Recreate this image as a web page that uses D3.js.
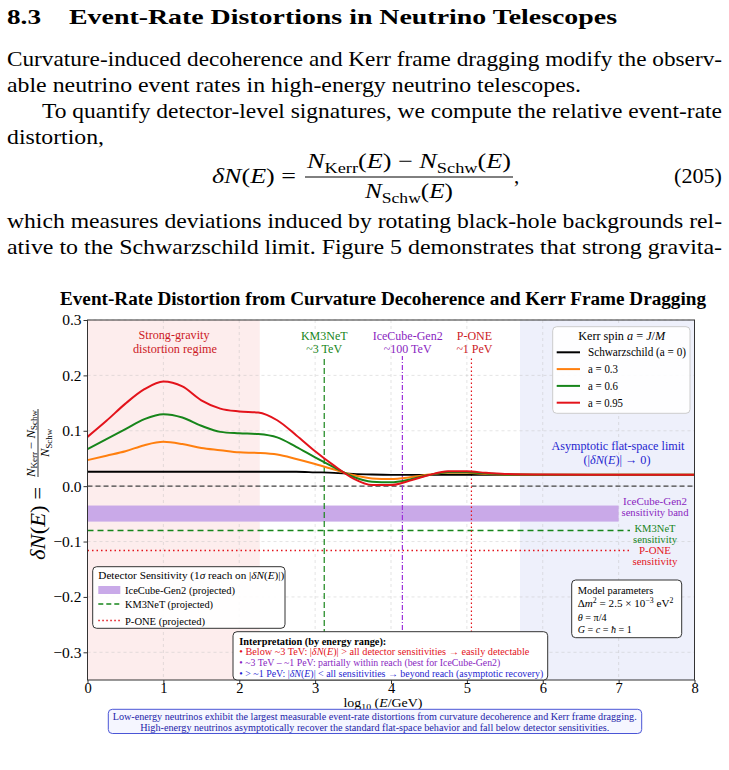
<!DOCTYPE html>
<html>
<head>
<meta charset="utf-8">
<script src="https://cdn.jsdelivr.net/npm/d3@7"></script>
<style>
  html, body { margin: 0; padding: 0; background: #fff; }
  svg { display: block; }
  text { font-family: "Liberation Serif", "DejaVu Serif", serif; }
</style>
</head>
<body>
<div id="page"></div>
<script>
// ---- values ----
var logE = [0, 0.25, 0.5, 0.75, 1, 1.25, 1.5, 1.75, 2, 2.25, 2.5, 2.75, 3, 3.25,
            3.5, 3.75, 4, 4.25, 4.5, 4.75, 5, 5.25, 5.5, 6, 7, 8];

var schwarzschild = [0.026, 0.026, 0.026, 0.026, 0.026, 0.026, 0.026, 0.026, 0.026, 0.026, 0.026, 0.026, 0.025, 0.024,
                     0.022, 0.021, 0.0205, 0.0205, 0.0205, 0.0205, 0.0205, 0.0205, 0.0205, 0.0205, 0.0205, 0.0205];
var spin03 = [0.047, 0.055, 0.063, 0.074, 0.080, 0.076, 0.069, 0.065, 0.061, 0.060, 0.057, 0.049, 0.040, 0.030,
              0.020, 0.014, 0.013, 0.016, 0.021, 0.024, 0.024, 0.022, 0.021, 0.0205, 0.0205, 0.0205];
var spin06 = [0.067, 0.085, 0.103, 0.121, 0.130, 0.124, 0.109, 0.098, 0.0955, 0.094, 0.088, 0.071, 0.052, 0.034,
              0.017, 0.008, 0.007, 0.012, 0.020, 0.025, 0.025, 0.023, 0.021, 0.0205, 0.0205, 0.0205];
var spin095 = [0.089, 0.118, 0.149, 0.175, 0.189, 0.180, 0.155, 0.140, 0.135, 0.133, 0.119, 0.092, 0.063, 0.037,
               0.014, 0.002, 0.002, 0.010, 0.020, 0.027, 0.027, 0.024, 0.022, 0.021, 0.0205, 0.0205];

var seriesNames = ["Schwarzschild (a = 0)", "a = 0.3", "a = 0.6", "a = 0.95"];
var seriesColors = ["#000000", "#ff7f0e", "#17851a", "#e3131b"];

var detectorNames = ["KM3NeT", "IceCube-Gen2", "P-ONE"];
var detectorEnergies = ["~3 TeV", "~100 TeV", "~1 PeV"];
var detectorLogE = [3.12, 4.15, 5.06];
var km3netSensitivity = -0.08;
var poneSensitivity = -0.116;
var icecubeBand = [-0.064, -0.035];
var icecubeBandEnd = 7;
var sensLineEnd = 7.15;

var strongRegime = [0, 2.27];
var flatRegime = [5.7, 8];

var xTicks = [0, 1, 2, 3, 4, 5, 6, 7, 8];
var yTicks = [-0.3, -0.2, -0.1, 0, 0.1, 0.2, 0.3];

// ---- page ----
var width = 729, height = 770;
var svg = d3.select("#page").append("svg")
    .attr("width", width)
    .attr("height", height);

svg.append("rect").attr("width", width).attr("height", height).attr("fill", "#fff");

function fit(sel, w) {
    return sel.attr("textLength", w).attr("lengthAdjust", "spacingAndGlyphs");
}

// text with italic / sub / sup pieces
function rich(parent, x, y, parts, size, anchor) {
    var t = parent.append("text")
        .attr("x", x).attr("y", y)
        .attr("font-size", size)
        .attr("text-anchor", anchor || "start");
    var shift = 0;
    parts.forEach(function(p) {
        var s = typeof p === "string" ? {t: p} : p;
        var target = s.sub ? 0.22 * size : (s.sup ? -0.33 * size : 0);
        var ts = t.append("tspan").text(s.t).attr("dy", target - shift);
        shift = target;
        if (s.sub || s.sup) ts.attr("font-size", size * 0.7);
        if (s.i) ts.attr("font-style", "italic");
        if (s.b) ts.attr("font-weight", "bold");
    });
    return t;
}

// section heading + paragraph
fit(svg.append("text").attr("x", 7).attr("y", 24).attr("font-size", 22)
    .attr("font-weight", "bold").text("8.3"), 34);
fit(svg.append("text").attr("x", 69).attr("y", 24).attr("font-size", 22)
    .attr("font-weight", "bold").text("Event-Rate Distortions in Neutrino Telescopes"), 548);

var bodyLines = [
    ["Curvature-induced decoherence and Kerr frame dragging modify the observ-", 7, 66, 715],
    ["able neutrino event rates in high-energy neutrino telescopes.", 7, 92, 574],
    ["To quantify detector-level signatures, we compute the relative event-rate", 42, 118, 680],
    ["distortion,", 7, 144, 97],
    ["which measures deviations induced by rotating black-hole backgrounds rel-", 7, 228, 715],
    ["ative to the Schwarzschild limit.  Figure 5 demonstrates that strong gravita-", 7, 254, 715]
];
bodyLines.forEach(function(l) {
    fit(svg.append("text").attr("x", l[1]).attr("y", l[2]).attr("font-size", 21).text(l[0]), l[3]);
});

// equation (205)
fit(rich(svg, 212, 183, [{t: "δN", i: true}, "(", {t: "E", i: true}, ") ="], 21), 84);
fit(rich(svg, 307, 168, [{t: "N", i: true}, {t: "Kerr", sub: true}, "(", {t: "E", i: true}, ") − ",
    {t: "N", i: true}, {t: "Schw", sub: true}, "(", {t: "E", i: true}, ")"], 21), 204);
svg.append("line").attr("x1", 305).attr("x2", 513).attr("y1", 177).attr("y2", 177)
    .attr("stroke", "#000").attr("stroke-width", 1);
fit(rich(svg, 365, 198, [{t: "N", i: true}, {t: "Schw", sub: true}, "(", {t: "E", i: true}, ")"], 21), 88);
svg.append("text").attr("x", 514).attr("y", 183).attr("font-size", 21).text(",");
fit(svg.append("text").attr("x", 674).attr("y", 183).attr("font-size", 21).text("(205)"), 48);

// ---- chart ----
var plot = {left: 87.5, right: 694.5, top: 320, bottom: 680};

var x = d3.scaleLinear().domain([0, 8]).range([plot.left, plot.right]);
var y = d3.scaleLinear().domain([-0.35, 0.3]).range([plot.bottom, plot.top]);

fit(svg.append("text").attr("x", 383).attr("y", 305).attr("text-anchor", "middle")
    .attr("font-size", 18).attr("font-weight", "bold")
    .text("Event-Rate Distortion from Curvature Decoherence and Kerr Frame Dragging"), 646);

var chart = svg.append("g");

// shaded regimes
chart.append("rect")
    .attr("x", x(strongRegime[0])).attr("width", x(strongRegime[1]) - x(strongRegime[0]))
    .attr("y", plot.top).attr("height", plot.bottom - plot.top)
    .attr("fill", "#fdeded");
chart.append("rect")
    .attr("x", x(flatRegime[0])).attr("width", x(flatRegime[1]) - x(flatRegime[0]))
    .attr("y", plot.top).attr("height", plot.bottom - plot.top)
    .attr("fill", "#eef0fb");

// grid
chart.selectAll("line.gx").data(xTicks.slice(1, -1)).enter().append("line")
    .attr("x1", d => x(d)).attr("x2", d => x(d))
    .attr("y1", plot.top).attr("y2", plot.bottom)
    .attr("stroke", "#bbb").attr("stroke-opacity", 0.5).attr("stroke-dasharray", "3,3").attr("stroke-width", 0.8);
chart.selectAll("line.gy").data(yTicks).enter().append("line")
    .attr("x1", plot.left).attr("x2", plot.right)
    .attr("y1", d => y(d)).attr("y2", d => y(d))
    .attr("stroke", "#bbb").attr("stroke-opacity", 0.5).attr("stroke-dasharray", "3,3").attr("stroke-width", 0.8);

// detector sensitivities
chart.append("rect")
    .attr("x", x(0)).attr("width", x(icecubeBandEnd) - x(0))
    .attr("y", y(icecubeBand[1])).attr("height", y(icecubeBand[0]) - y(icecubeBand[1]))
    .attr("fill", "#c9a9e8");
chart.append("line")
    .attr("x1", x(0)).attr("x2", x(sensLineEnd))
    .attr("y1", y(km3netSensitivity)).attr("y2", y(km3netSensitivity))
    .attr("stroke", "#17851a").attr("stroke-width", 1.5).attr("stroke-dasharray", "6,4");
chart.append("line")
    .attr("x1", x(0)).attr("x2", x(sensLineEnd))
    .attr("y1", y(poneSensitivity)).attr("y2", y(poneSensitivity))
    .attr("stroke", "#e3131b").attr("stroke-width", 1.5).attr("stroke-dasharray", "1.5,3");

// zero line
chart.append("line")
    .attr("x1", x(0)).attr("x2", x(8)).attr("y1", y(0)).attr("y2", y(0))
    .attr("stroke", "#444").attr("stroke-width", 1.2).attr("stroke-dasharray", "5,3");

// detector threshold lines
var vStyles = [
    {color: "#17851a", dash: "6,3", text: "#17851a"},
    {color: "#9b30d9", dash: "5,2,1,2", text: "#8a1fbf"},
    {color: "#e3131b", dash: "1.5,2.5", text: "#cc1a1f"}
];
var labelLogE = [3.12, 4.22, 5.1];
detectorLogE.forEach(function(e, i) {
    chart.append("line")
        .attr("x1", x(e)).attr("x2", x(e))
        .attr("y1", plot.bottom).attr("y2", plot.bottom - 0.9 * (plot.bottom - plot.top))
        .attr("stroke", vStyles[i].color).attr("stroke-width", 1.2)
        .attr("stroke-dasharray", vStyles[i].dash);
    chart.append("text").attr("x", x(labelLogE[i])).attr("y", 340)
        .attr("text-anchor", "middle").attr("font-size", 12).attr("fill", vStyles[i].text)
        .text(detectorNames[i]);
    chart.append("text").attr("x", x(labelLogE[i])).attr("y", 352.5)
        .attr("text-anchor", "middle").attr("font-size", 12).attr("fill", vStyles[i].text)
        .text(detectorEnergies[i]);
});

// curves
var allSeries = [schwarzschild, spin03, spin06, spin095];
var line = d3.line()
    .x((d, i) => x(logE[i]))
    .y(d => y(d))
    .curve(d3.curveMonotoneX);
allSeries.forEach(function(s, i) {
    chart.append("path")
        .attr("d", line(s))
        .attr("fill", "none")
        .attr("stroke", seriesColors[i])
        .attr("stroke-width", i === 0 ? 1.8 : 2);
});

// regime annotations
fit(chart.append("text").attr("x", 174).attr("y", 339).attr("text-anchor", "middle")
    .attr("font-size", 12.5).attr("fill", "#cc1a1f").text("Strong-gravity"), 71);
fit(chart.append("text").attr("x", 175).attr("y", 352.5).attr("text-anchor", "middle")
    .attr("font-size", 12.5).attr("fill", "#cc1a1f").text("distortion regime"), 84);
fit(chart.append("text").attr("x", 618).attr("y", 450).attr("text-anchor", "middle")
    .attr("font-size", 12.5).attr("fill", "#1f1fd0").text("Asymptotic flat-space limit"), 133);
fit(rich(chart, 617, 463.5, ["(|", {t: "δN", i: true}, "(", {t: "E", i: true}, ")| → 0)"], 12.5, "middle")
    .attr("fill", "#1f1fd0"), 67);

// right-hand sensitivity labels
var sideLabels = [
    ["IceCube-Gen2", 505, "#8a1fbf", 64],
    ["sensitivity band", 516, "#8a1fbf", 67],
    ["KM3NeT", 531.5, "#17851a", 41],
    ["sensitivity", 542.5, "#17851a", 44],
    ["P-ONE", 553.5, "#e3131b", 32],
    ["sensitivity", 564.5, "#e3131b", 45]
];
sideLabels.forEach(function(l) {
    fit(chart.append("text").attr("x", 655).attr("y", l[1]).attr("text-anchor", "middle")
        .attr("font-size", 10.5).attr("fill", l[2]).text(l[0]), l[3]);
});

// axes
var xAxis = d3.axisBottom(x).tickValues(xTicks).tickSize(4).tickPadding(-1).tickFormat(d3.format("d"));
var yAxis = d3.axisLeft(y).tickValues(yTicks).tickSize(4).tickPadding(2).tickFormat(d3.format(".1f"));

var gx = svg.append("g").attr("transform", `translate(0, ${plot.bottom})`).call(xAxis);
var gy = svg.append("g").attr("transform", `translate(${plot.left}, 0)`).call(yAxis);
[gx, gy].forEach(function(g) {
    g.select(".domain").remove();
    g.selectAll("line").attr("stroke", "#333");
    g.selectAll("text").attr("font-size", 15.5).attr("fill", "#000")
        .attr("font-family", "'Liberation Serif', 'DejaVu Serif', serif");
});
gx.selectAll("text").attr("font-size", 14.5);

svg.append("rect")
    .attr("x", plot.left).attr("y", plot.top)
    .attr("width", plot.right - plot.left).attr("height", plot.bottom - plot.top)
    .attr("fill", "none").attr("stroke", "#333").attr("stroke-width", 1);

// axis labels
fit(rich(svg, 383, 707, ["log", {t: "10", sub: true}, " (", {t: "E", i: true}, "/GeV)"], 13, "middle"), 79);

var yl = svg.append("g").attr("transform", "translate(45, 485) rotate(-90)");
fit(rich(yl, -75, 0, [{t: "δN", i: true}, "(", {t: "E", i: true}, ") ="], 20), 73);
fit(rich(yl, 8, -10.5, [{t: "N", i: true}, {t: "Kerr", sub: true}, " − ", {t: "N", i: true}, {t: "Schw", sub: true}], 12), 67);
yl.append("line").attr("x1", 8).attr("x2", 76).attr("y1", -7).attr("y2", -7)
    .attr("stroke", "#000").attr("stroke-width", 0.8);
fit(rich(yl, 28, 4, [{t: "N", i: true}, {t: "Schw", sub: true}], 12), 28);

// legend: Kerr spin
var lg = svg.append("g");
lg.append("rect").attr("x", 552.7).attr("y", 326.7).attr("width", 137.3).attr("height", 86.6)
    .attr("rx", 4).attr("fill", "#fff").attr("fill-opacity", 0.9).attr("stroke", "#ccc");
fit(rich(lg, 621.7, 339.5, ["Kerr spin ", {t: "a", i: true}, " = ", {t: "J", i: true}, "/", {t: "M", i: true}], 12.5, "middle"), 87);
var legendWidths = [98, 30, 30, 35];
seriesNames.forEach(function(name, i) {
    var cy = 352.3 + i * 16.8;
    lg.append("line").attr("x1", 556.7).attr("x2", 580).attr("y1", cy).attr("y2", cy)
        .attr("stroke", seriesColors[i]).attr("stroke-width", 2);
    fit(lg.append("text").attr("x", 588).attr("y", cy + 4).attr("font-size", 12.5).text(name), legendWidths[i]);
});

// legend: detector sensitivity
var dg = svg.append("g");
dg.append("rect").attr("x", 92.7).attr("y", 566.7).attr("width", 192.3).attr("height", 61.6)
    .attr("rx", 4).attr("fill", "#fff").attr("fill-opacity", 0.9).attr("stroke", "#333");
fit(rich(dg, 98.3, 579, ["Detector Sensitivity (1", {t: "σ", i: true}, " reach on |", {t: "δN", i: true}, "(", {t: "E", i: true}, ")|)"], 11), 186);
dg.append("rect").attr("x", 98.3).attr("y", 586).attr("width", 22).attr("height", 8).attr("fill", "#c9a9e8");
dg.append("line").attr("x1", 98.3).attr("x2", 120.3).attr("y1", 604).attr("y2", 604)
    .attr("stroke", "#17851a").attr("stroke-width", 1.5).attr("stroke-dasharray", "5,3");
dg.append("line").attr("x1", 98.3).attr("x2", 120.3).attr("y1", 620.5).attr("y2", 620.5)
    .attr("stroke", "#e3131b").attr("stroke-width", 1.5).attr("stroke-dasharray", "1.5,2.5");
fit(dg.append("text").attr("x", 125).attr("y", 594).attr("font-size", 11).text("IceCube-Gen2 (projected)"), 110);
fit(dg.append("text").attr("x", 125).attr("y", 608).attr("font-size", 11).text("KM3NeT (projected)"), 88);
fit(dg.append("text").attr("x", 125).attr("y", 624.5).attr("font-size", 11).text("P-ONE (projected)"), 80);

// interpretation box
var ig = svg.append("g");
ig.append("rect").attr("x", 233).attr("y", 631.7).attr("width", 314.7).attr("height", 48.3)
    .attr("rx", 4).attr("fill", "#fff").attr("stroke", "#333");
fit(ig.append("text").attr("x", 239.3).attr("y", 644.5).attr("font-size", 10.5).attr("font-weight", "bold")
    .text("Interpretation (by energy range):"), 147);
fit(rich(ig, 239.3, 654.5, ["• Below ~3 TeV: |", {t: "δN", i: true}, "(", {t: "E", i: true},
    ")| > all detector sensitivities → easily detectable"], 10).attr("fill", "#e3131b"), 290);
fit(ig.append("text").attr("x", 239.3).attr("y", 665.5).attr("font-size", 10).attr("fill", "#8a1fbf")
    .text("• ~3 TeV – ~1 PeV: partially within reach (best for IceCube-Gen2)"), 261);
fit(rich(ig, 239.3, 677, ["• > ~1 PeV: |", {t: "δN", i: true}, "(", {t: "E", i: true},
    ")| < all sensitivities → beyond reach (asymptotic recovery)"], 10).attr("fill", "#1f1fd0"), 304);

// model parameters box
var mg = svg.append("g");
mg.append("rect").attr("x", 571.7).attr("y", 580).attr("width", 110).attr("height", 57.7)
    .attr("rx", 4).attr("fill", "#fff").attr("stroke", "#333");
fit(mg.append("text").attr("x", 577.7).attr("y", 593.5).attr("font-size", 11).text("Model parameters"), 75.7);
fit(rich(mg, 577.7, 607, ["Δ", {t: "m", i: true}, {t: "2", sup: true}, " = 2.5 × 10", {t: "−3", sup: true}, " eV", {t: "2", sup: true}], 11), 95.6);
fit(rich(mg, 577.7, 620.5, [{t: "θ", i: true}, " = π/4"], 11), 29);
fit(rich(mg, 577.7, 633, [{t: "G", i: true}, " = ", {t: "c", i: true}, " = ", {t: "ħ", i: true}, " = 1"], 11), 54);

// caption box
var cg = svg.append("g");
cg.append("rect").attr("x", 108.3).attr("y", 709.3).attr("width", 533.4).attr("height", 24.2)
    .attr("rx", 4).attr("fill", "#f5f6ff").attr("stroke", "#4a55d6").attr("stroke-width", 1);
fit(cg.append("text").attr("x", 374.7).attr("y", 719.8).attr("text-anchor", "middle")
    .attr("font-size", 10.5).attr("fill", "#1c1ca8")
    .text("Low-energy neutrinos exhibit the largest measurable event-rate distortions from curvature decoherence and Kerr frame dragging."), 524);
fit(cg.append("text").attr("x", 374.7).attr("y", 730.5).attr("text-anchor", "middle")
    .attr("font-size", 10.5).attr("fill", "#1c1ca8")
    .text("High-energy neutrinos asymptotically recover the standard flat-space behavior and fall below detector sensitivities."), 469);
</script>
</body>
</html>
